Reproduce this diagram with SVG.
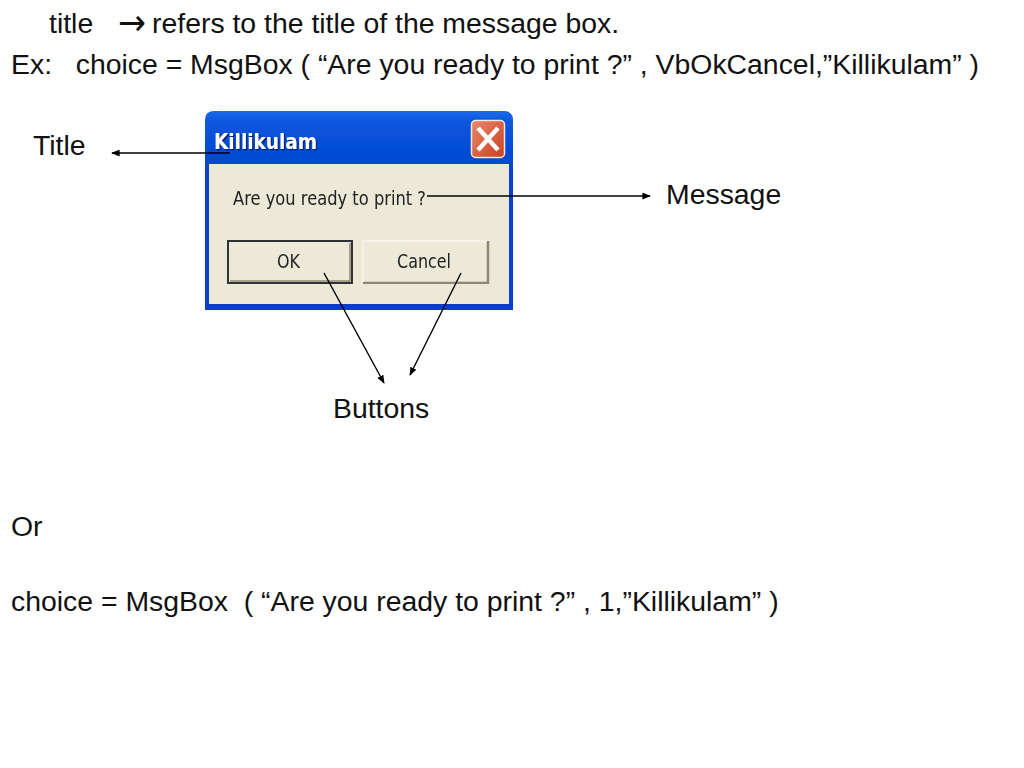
<svg xmlns="http://www.w3.org/2000/svg" width="1024" height="768" viewBox="0 0 1024 768">
<style>
.t{font-family:"Liberation Sans",Arial,sans-serif;font-size:28.4px;fill:#111}
.d{font-family:Tahoma,"DejaVu Sans",sans-serif;fill:#222;font-size:20px}
.c{stroke:#000;stroke-width:1.4;fill:none}
</style>
<defs>
<linearGradient id="tb" x1="0" y1="0" x2="0" y2="1"><stop offset="0" stop-color="#1a6ae8"/><stop offset=".06" stop-color="#0a55dc"/><stop offset=".3" stop-color="#0046d0"/><stop offset=".8" stop-color="#0349cf"/><stop offset="1" stop-color="#0a58e4"/></linearGradient>
<linearGradient id="x" x1="0" y1="0" x2="1" y2="1"><stop offset="0" stop-color="#e88a6c"/><stop offset="1" stop-color="#c9401f"/></linearGradient>
<filter id="s" x="-10%" y="-20%" width="125%" height="150%"><feDropShadow dx="1.300" dy="1.300" stdDeviation="0.700" flood-color="#001a70"/></filter>
<filter id="b" x="-2%" y="-2%" width="104%" height="104%"><feGaussianBlur stdDeviation="0.450"/></filter>
<marker id="a" viewBox="0 0 10 8" refX="9" refY="4" markerWidth="8.500" markerHeight="7" markerUnits="userSpaceOnUse" orient="auto"><path d="M0 0L10 4L0 8z" fill="#000"/></marker>
</defs>
<rect width="1024" height="768" fill="#fff"/>
<g id="text">
<text class="t" x="49" y="33">title</text>
<text x="118" y="35" class="t" style="font-family:'DejaVu Sans',sans-serif;font-size:36px" textLength="28" lengthAdjust="spacingAndGlyphs">→</text>
<text class="t" x="152" y="33">refers to the title of the message box.</text>
<text class="t" x="11" y="74" xml:space="preserve">Ex:   choice = MsgBox ( “Are you ready to print ?” , VbOkCancel,”Killikulam” )</text>
<text class="t" x="11" y="536">Or</text>
<text class="t" x="11" y="611" xml:space="preserve">choice = MsgBox  ( “Are you ready to print ?” , 1,”Killikulam” )</text>
</g>
<g id="dialog" filter="url(#b)">
<path d="M205 310V120Q205 111 214 111H504Q513 111 513 120V310Z" fill="url(#tb)"/>
<rect x="205" y="164" width="308" height="146" fill="#0840d0"/>
<rect x="209" y="164" width="300" height="140" fill="#ece9d8"/>
<rect x="205" y="304" width="308" height="6" fill="#0a3cc0"/>
<text x="214" y="149" filter="url(#s)" style="font-family:'DejaVu Sans',sans-serif;font-weight:bold;font-size:22px;fill:#fff" textLength="103" lengthAdjust="spacingAndGlyphs">Killikulam</text>
<rect x="471.500" y="120.500" width="33" height="37" rx="4" fill="url(#x)" stroke="#f0e8e0" stroke-width="1.500"/>
<path d="M478 128L498 150M498 128L478 150" stroke="#fff" stroke-width="4.500"/>
<text class="d" x="233" y="205" textLength="193" lengthAdjust="spacingAndGlyphs">Are you ready to print ?</text>
</g>
<g id="ok" filter="url(#b)">
<rect x="228" y="241" width="124" height="42" fill="#ece9d8" stroke="#333" stroke-width="2"/>
<path d="M230 281H350V243" fill="none" stroke="#8c8874" stroke-width="1.500"/>
<text class="d" x="277" y="268" textLength="23" lengthAdjust="spacingAndGlyphs">OK</text>
</g>
<g id="cancel" filter="url(#b)">
<rect x="363" y="241" width="125" height="42" fill="#ece9d8"/>
<path d="M363 283H488V241" fill="none" stroke="#8c8874" stroke-width="2.500"/>
<path d="M363 282V241H487" fill="none" stroke="#f8f6ee" stroke-width="1.500"/>
<text class="d" x="397" y="268" textLength="54" lengthAdjust="spacingAndGlyphs">Cancel</text>
</g>
<g id="connectors">
<path class="c" d="M230 153H112" marker-end="url(#a)"/>
<path class="c" d="M427 196H650" marker-end="url(#a)"/>
<path class="c" d="M324 273L384 383" marker-end="url(#a)"/>
<path class="c" d="M461 273L410 375" marker-end="url(#a)"/>
</g>
<g id="labels">
<text class="t" x="33" y="155">Title</text>
<text class="t" x="666" y="204">Message</text>
<text class="t" x="333" y="418">Buttons</text>
</g>
</svg>
